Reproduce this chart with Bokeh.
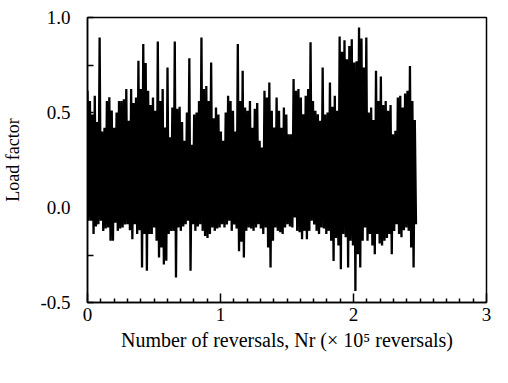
from bokeh.plotting import figure
from bokeh.models import FixedTicker, Range1d
from bokeh.embed import file_html
from bokeh.resources import INLINE

# Envelope of the load history: successive peak and
# trough of each plotted load reversal block (load factor)
upper_peaks = [
    0.614, 0.56, 0.49, 0.588, 0.45, 0.895, 0.40, 0.42, 0.56, 0.58,
    0.51, 0.42, 0.50, 0.56, 0.56, 0.57, 0.623, 0.456, 0.623, 0.55,
    0.579, 0.772, 0.623, 0.86, 0.76, 0.614, 0.54, 0.579, 0.509, 0.874,
    0.561, 0.623, 0.421, 0.737, 0.37, 0.526, 0.874, 0.52, 0.53, 0.45,
    0.351, 0.50, 0.786, 0.33, 0.49, 0.50, 0.561, 0.895, 0.623, 0.64,
    0.56, 0.763, 0.47, 0.526, 0.49, 0.40, 0.351, 0.50, 0.588, 0.56,
    0.509, 0.40, 0.86, 0.561, 0.72, 0.526, 0.509, 0.561, 0.42, 0.52,
    0.55, 0.351, 0.316, 0.614, 0.579, 0.658, 0.509, 0.421, 0.579, 0.509,
    0.42, 0.526, 0.49, 0.386,
    0.386, 0.676, 0.614, 0.623, 0.579, 0.491, 0.588, 0.623, 0.87, 0.561,
    0.509, 0.491, 0.456, 0.737, 0.49, 0.50, 0.658, 0.53, 0.588, 0.509,
    0.90, 0.82, 0.88, 0.78, 0.85, 0.885, 0.763, 0.77, 0.947, 0.89,
    0.737, 0.895, 0.50, 0.526, 0.46, 0.72, 0.561, 0.69, 0.54, 0.561,
    0.509, 0.54, 0.386, 0.404, 0.579, 0.588, 0.526, 0.60, 0.614, 0.745,
    0.561, 0.46,
]
lower_troughs = [
    -0.07, -0.07, -0.14, -0.10, -0.088, -0.07, -0.123, -0.11, -0.105, -0.175,
    -0.175, -0.08, -0.123, -0.11, -0.105, -0.09, -0.088, -0.12, -0.167, -0.088,
    -0.14, -0.12, -0.316, -0.14, -0.333, -0.14, -0.14, -0.105, -0.175, -0.263,
    -0.21, -0.30, -0.28, -0.14, -0.123, -0.123, -0.368, -0.105, -0.123, -0.10,
    -0.088, -0.07, -0.333, -0.088, -0.123, -0.10, -0.088, -0.123, -0.15, -0.16,
    -0.14, -0.105, -0.123, -0.11, -0.105, -0.088, -0.105, -0.09, -0.07, -0.123,
    -0.09, -0.11, -0.23, -0.18, -0.263, -0.123, -0.105, -0.11, -0.123, -0.105,
    -0.088, -0.11, -0.14, -0.105, -0.21, -0.316, -0.175, -0.105, -0.123, -0.13,
    -0.14, -0.105, -0.088, -0.10,
    -0.105, -0.053, -0.123, -0.13, -0.167, -0.123, -0.167, -0.123, -0.07, -0.09,
    -0.123, -0.14, -0.105, -0.11, -0.14, -0.123, -0.175, -0.281, -0.16, -0.20,
    -0.325, -0.14, -0.157, -0.316, -0.175, -0.20, -0.439, -0.246, -0.316, -0.175,
    -0.105, -0.175, -0.14, -0.20, -0.246, -0.14, -0.19, -0.20, -0.175, -0.16,
    -0.14, -0.246, -0.123, -0.088, -0.14, -0.157, -0.12, -0.105, -0.123, -0.21,
    -0.316, -0.088,
]
end_reversals = 2.47          # x 10^5 reversals, end of the record

x_ticks = [0, 1, 2, 3]
x_minor_ticks = [0.1, 0.2, 0.3, 0.4, 0.5, 0.6, 0.7, 0.8, 0.9,
                 1.1, 1.2, 1.3, 1.4, 1.5, 1.6, 1.7, 1.8, 1.9,
                 2.1, 2.2, 2.3, 2.4, 2.5, 2.6, 2.7, 2.8, 2.9]
y_ticks = [-0.5, 0.0, 0.5, 1.0]
y_tick_labels = ["-0.5", "0.0", "0.5", "1.0"]
y_minor_ticks = [-0.25, 0.25, 0.75]

x_title = "Number of reversals, Nr (\u00d7 10\u2075 reversals)"
y_title = "Load factor"

# alternate peak / trough along the reversal axis
n = len(upper_peaks)
step = end_reversals / (n - 0.5)
xs, ys = [], []
for i, (hi, lo) in enumerate(zip(upper_peaks, lower_troughs)):
    xs += [i * step, (i + 0.5) * step]
    ys += [hi, lo]

FONT = "Liberation Serif"

p = figure(width=492, height=367, x_range=Range1d(0, 3), y_range=Range1d(-0.5, 1.0),
           output_backend="svg", toolbar_location=None,
           min_border_left=84, min_border_right=6, min_border_top=17,
           min_border_bottom=65)
p.background_fill_color = "white"
p.border_fill_color = "white"
p.grid.visible = False
p.outline_line_color = "black"
p.outline_line_width = 1.5

p.line(xs, ys, line_color="black", line_width=2.3, line_join="miter")

p.xaxis.ticker = FixedTicker(ticks=x_ticks, minor_ticks=x_minor_ticks)
p.yaxis.ticker = FixedTicker(ticks=y_ticks, minor_ticks=y_minor_ticks)
p.yaxis.major_label_overrides = dict(zip(y_ticks, y_tick_labels))

for ax in (p.xaxis[0], p.yaxis[0]):
    ax.axis_line_color = "black"
    ax.axis_line_width = 1.5
    ax.major_tick_line_color = "black"
    ax.minor_tick_line_color = "black"
    ax.major_tick_line_width = 1.5
    ax.minor_tick_line_width = 1.5
    ax.major_tick_out = 0
    ax.minor_tick_out = 0
    ax.major_label_text_font = FONT
    ax.major_label_text_font_size = "19px"
    ax.major_label_text_color = "black"
    ax.axis_label_text_font = FONT
    ax.axis_label_text_font_style = "normal"
    ax.axis_label_text_color = "black"

p.xaxis.major_tick_in = 9
p.xaxis.minor_tick_in = 4
p.xaxis.major_label_standoff = 5
p.xaxis.axis_label = x_title
p.xaxis.axis_label_text_font_size = "20px"
p.xaxis.axis_label_standoff = 5

p.yaxis.major_tick_in = 6
p.yaxis.minor_tick_in = 6
p.yaxis.major_label_standoff = 17
p.yaxis.axis_label = y_title
p.yaxis.axis_label_text_font_size = "18px"
p.yaxis.axis_label_standoff = 14

open("out.html", "w").write(file_html(p, INLINE))
